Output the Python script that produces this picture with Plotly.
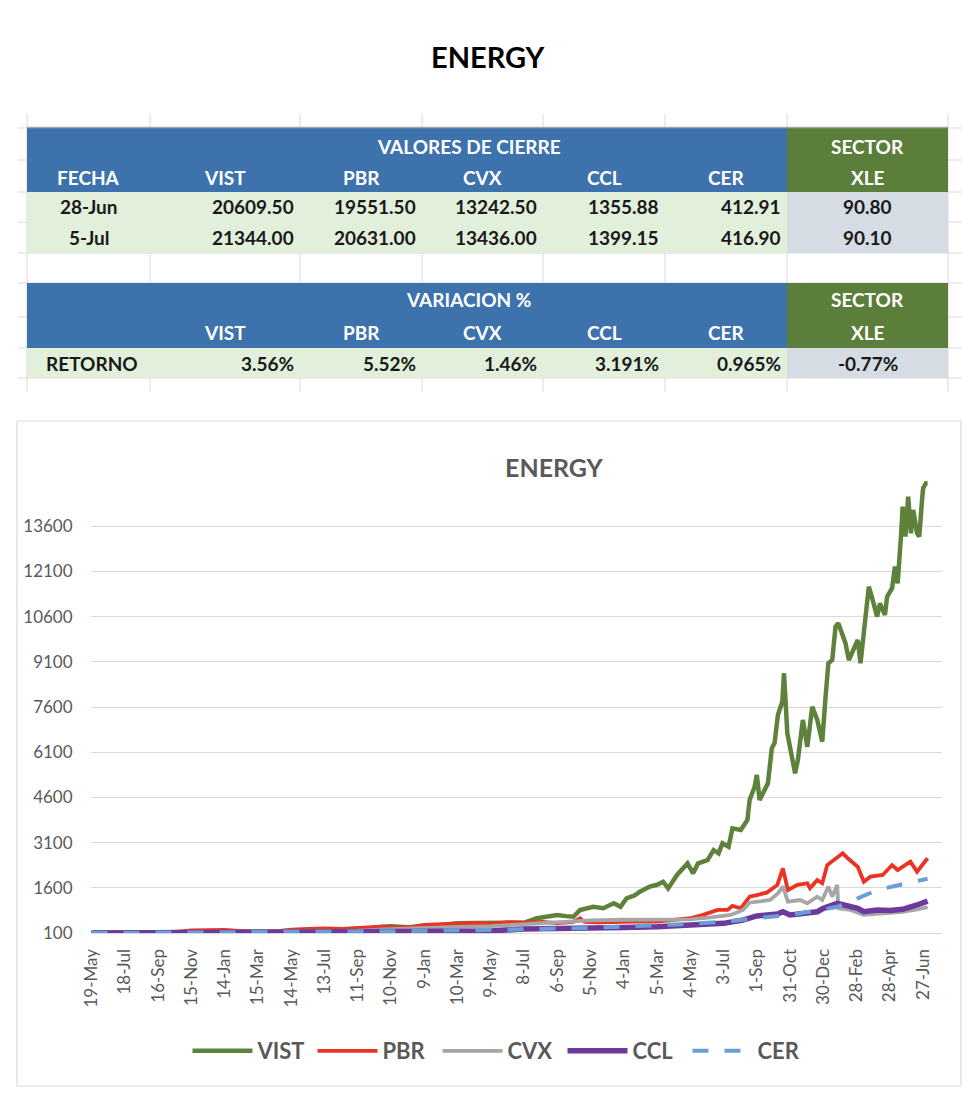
import plotly.graph_objects as go

# the page adds an 8px body margin, so the figure is drawn 8px in from the corner
OFF = 8
W, H = 980 - OFF, 1103 - OFF


def px(x):
    return (x - OFF) / W


def py(y):
    return 1 - (y - OFF) / H


# ------------------------------------------------------------------ table data
tickers = ["VIST", "PBR", "CVX", "CCL", "CER"]
fechas = ["28-Jun", "5-Jul"]
cierre_28jun = [20609.50, 19551.50, 13242.50, 1355.88, 412.91]
cierre_5jul = [21344.00, 20631.00, 13436.00, 1399.15, 416.90]
xle_cierre = [90.80, 90.10]
retorno = [3.56, 5.52, 1.46, 3.191, 0.965]
xle_retorno = -0.77

# ------------------------------------------------------------------ chart data
x_tick_dates = ["2020-05-19", "2020-07-18", "2020-09-16", "2020-11-15", "2021-01-14",
                "2021-03-15", "2021-05-14", "2021-07-13", "2021-09-11", "2021-11-10",
                "2022-01-09", "2022-03-10", "2022-05-09", "2022-07-08", "2022-09-06",
                "2022-11-05", "2023-01-04", "2023-03-05", "2023-05-04", "2023-07-03",
                "2023-09-01", "2023-10-31", "2023-12-30", "2024-02-28", "2024-04-28",
                "2024-06-27"]
x_tick_labels = ["19-May", "18-Jul", "16-Sep", "15-Nov", "14-Jan", "15-Mar", "14-May",
                 "13-Jul", "11-Sep", "10-Nov", "9-Jan", "10-Mar", "9-May", "8-Jul",
                 "6-Sep", "5-Nov", "4-Jan", "5-Mar", "4-May", "3-Jul", "1-Sep",
                 "31-Oct", "30-Dec", "28-Feb", "28-Apr", "27-Jun"]
y_ticks = [100, 1600, 3100, 4600, 6100, 7600, 9100, 10600, 12100, 13600]

vist_dates = ["2020-05-19", "2020-06-20", "2020-07-18", "2020-08-20", "2020-09-16", "2020-10-15",
              "2020-11-15", "2020-12-15", "2021-01-14", "2021-02-15", "2021-03-15", "2021-04-15",
              "2021-05-14", "2021-06-15", "2021-07-13", "2021-08-15", "2021-09-11", "2021-10-05",
              "2021-10-22", "2021-11-10", "2021-12-10", "2022-01-09", "2022-02-10", "2022-03-10",
              "2022-04-10", "2022-05-09", "2022-06-12", "2022-07-10", "2022-07-31", "2022-08-15",
              "2022-09-06", "2022-09-22", "2022-10-05", "2022-10-17", "2022-11-10", "2022-11-28",
              "2022-12-17", "2022-12-29", "2023-01-09", "2023-01-24", "2023-02-02", "2023-02-20",
              "2023-03-05", "2023-03-16", "2023-03-25", "2023-04-10", "2023-04-29", "2023-05-09",
              "2023-05-18", "2023-06-04", "2023-06-15", "2023-06-24", "2023-07-01", "2023-07-12",
              "2023-07-19", "2023-08-03", "2023-08-15", "2023-08-19", "2023-08-28", "2023-09-01",
              "2023-09-06", "2023-09-21", "2023-09-28", "2023-10-03", "2023-10-09", "2023-10-17",
              "2023-10-20", "2023-10-26", "2023-10-31", "2023-11-09", "2023-11-14", "2023-11-23",
              "2023-12-01", "2023-12-10", "2023-12-19", "2023-12-28", "2024-01-03", "2024-01-08",
              "2024-01-15", "2024-01-21", "2024-01-26", "2024-02-03", "2024-02-08", "2024-02-14",
              "2024-02-21", "2024-03-01", "2024-03-06", "2024-03-12", "2024-03-21", "2024-03-28",
              "2024-04-05", "2024-04-10", "2024-04-19", "2024-04-23", "2024-05-02", "2024-05-07",
              "2024-05-12", "2024-05-18", "2024-05-21", "2024-05-26", "2024-05-31", "2024-06-05",
              "2024-06-09", "2024-06-16", "2024-06-20", "2024-06-25", "2024-06-27", "2024-07-02",
              "2024-07-05"]
vist_vals = [100, 102, 105, 104, 110, 105,
             120, 140, 150, 145, 140, 145,
             155, 175, 190, 200, 215, 260,
             310, 320, 290, 300, 370, 420,
             430, 440, 420, 450, 590, 620,
             700, 660, 640, 860, 970, 920,
             1085, 970, 1250, 1350, 1470, 1640,
             1700, 1800, 1580, 2025, 2410, 2080,
             2410, 2520, 2850, 2745, 3075, 2960,
             3575, 3520, 3850, 4515, 4955, 5345,
             4515, 5070, 6230, 6400, 7335, 7780,
             8720, 6730, 6280, 5400, 5840, 7170,
             6280, 7610, 7170, 6450, 7940, 9050,
             9160, 10270, 10380, 9935, 9715, 9160,
             9440, 9825, 9050, 10160, 11595, 11150,
             10600, 11040, 10655, 11260, 11540, 12260,
             11705, 13255, 14250, 13255, 14580, 13365,
             14140, 13365, 13255, 14470, 14860, 15025,
             15030]

pbr_dates = ["2020-05-19", "2020-06-20", "2020-07-18", "2020-08-20", "2020-09-16", "2020-10-20",
             "2020-11-15", "2020-12-15", "2021-01-14", "2021-02-15", "2021-03-15", "2021-04-15",
             "2021-05-14", "2021-06-15", "2021-07-13", "2021-08-15", "2021-09-11", "2021-10-15",
             "2021-11-10", "2021-12-15", "2022-01-09", "2022-02-10", "2022-03-10", "2022-04-10",
             "2022-05-09", "2022-06-12", "2022-07-08", "2022-08-10", "2022-09-06", "2022-10-05",
             "2022-10-17", "2022-10-25", "2022-11-20", "2022-12-16", "2023-01-24", "2023-03-05",
             "2023-04-10", "2023-05-04", "2023-05-27", "2023-06-22", "2023-07-10", "2023-07-19",
             "2023-08-03", "2023-08-19", "2023-09-01", "2023-09-19", "2023-10-08", "2023-10-18",
             "2023-10-27", "2023-11-13", "2023-12-01", "2023-12-06", "2023-12-19", "2023-12-28",
             "2024-01-06", "2024-01-17", "2024-02-03", "2024-02-12", "2024-03-01", "2024-03-12",
             "2024-03-24", "2024-04-15", "2024-05-02", "2024-05-12", "2024-06-04", "2024-06-16",
             "2024-06-27", "2024-07-05"]
pbr_vals = [100, 108, 112, 105, 118, 135,
            190, 210, 205, 165, 130, 150,
            215, 240, 255, 235, 260, 300,
            290, 300, 370, 385, 420, 435,
            410, 460, 440, 470, 430, 470,
            590, 470, 450, 470, 480, 480,
            530, 590, 700, 865, 865, 1000,
            920, 1305, 1360, 1440, 1695, 2245,
            1525, 1695, 1750, 1585, 1860, 1750,
            2355, 2520, 2745, 2580, 2300, 1800,
            1970, 2025, 2355, 2190, 2465, 2135,
            2410, 2580]

cvx_dates = ["2020-05-19", "2020-07-18", "2020-09-16", "2020-11-15", "2021-01-14", "2021-03-15",
             "2021-05-14", "2021-07-13", "2021-09-11", "2021-11-10", "2022-01-09", "2022-03-10",
             "2022-05-09", "2022-07-08", "2022-09-06", "2022-11-05", "2023-01-04", "2023-03-05",
             "2023-05-04", "2023-06-10", "2023-07-16", "2023-08-07", "2023-08-19", "2023-09-25",
             "2023-10-09", "2023-10-18", "2023-10-27", "2023-11-18", "2023-12-01", "2023-12-19",
             "2023-12-28", "2024-01-08", "2024-01-15", "2024-01-24", "2024-01-26", "2024-02-17",
             "2024-03-12", "2024-04-15", "2024-05-21", "2024-06-16", "2024-07-05"]
cvx_vals = [100, 98, 95, 120, 135, 150,
            160, 165, 175, 230, 250, 300,
            330, 400, 470, 520, 540, 540,
            555, 620, 700, 865, 1105, 1195,
            1415, 1640, 1140, 1195, 1085, 1305,
            1195, 1640, 1305, 1695, 920, 865,
            700, 750, 805, 880, 960]

ccl_dates = ["2020-05-19", "2020-07-18", "2020-09-16", "2020-11-15", "2021-01-14", "2021-03-15",
             "2021-05-14", "2021-07-13", "2021-09-11", "2021-11-10", "2022-01-09", "2022-03-10",
             "2022-05-09", "2022-07-08", "2022-09-06", "2022-11-05", "2023-01-04", "2023-03-05",
             "2023-05-04", "2023-07-03", "2023-08-07", "2023-09-01", "2023-10-08", "2023-10-18",
             "2023-10-31", "2023-11-23", "2023-12-19", "2023-12-30", "2024-01-24", "2024-02-05",
             "2024-03-01", "2024-03-12", "2024-04-05", "2024-04-28", "2024-05-21", "2024-06-16",
             "2024-07-05"]
ccl_vals = [100, 105, 118, 128, 122, 116,
            122, 135, 145, 165, 170, 165,
            170, 230, 235, 255, 285, 310,
            365, 420, 530, 665, 730, 805,
            700, 750, 805, 920, 1085, 1030,
            920, 805, 865, 850, 885, 1030,
            1160]

cer_dates = ["2020-05-19", "2020-11-15", "2021-05-14", "2021-11-10", "2022-05-09", "2022-11-05",
             "2023-05-04", "2023-07-03", "2023-09-01", "2023-10-31", "2023-12-30", "2024-01-24",
             "2024-03-01", "2024-04-05", "2024-05-15", "2024-07-05"]
cer_vals = [100, 112, 135, 160, 200, 270,
            400, 475, 590, 700, 880, 970,
            1250, 1525, 1695, 1900]

series = [
    ("VIST", vist_dates, vist_vals, "#5E823C", 4.5, "solid"),
    ("PBR", pbr_dates, pbr_vals, "#EB3323", 3.8, "solid"),
    ("CVX", cvx_dates, cvx_vals, "#A6A6A6", 3.8, "solid"),
    ("CCL", ccl_dates, ccl_vals, "#6B3A9C", 5.5, "solid"),
    ("CER", cer_dates, cer_vals, "#6A9FD6", 4, "16px,16px"),
]

FONT = "Lato"
GREY_TXT = "#595959"
BLUE = "#3E72AD"
GREEN = "#5B7F3A"
ROW_GREEN = "#E2EFDA"
ROW_GREY = "#D6DCE4"
GRID = "#D9D9D9"

fig = go.Figure()
for name, d, v, c, w, dash in series:
    fig.add_trace(go.Scatter(x=d, y=v, mode="lines", name=name,
                             line=dict(color=c, width=w, dash=dash)))

# ------------------------------------------------------------------ table geometry
cols = [27, 150, 300, 422, 543, 665, 787, 948]
rows = {"h1": (128, 160), "h2": (160, 192), "d1": (192, 222), "d2": (222, 253),
        "blank": (253, 283), "h3": (283, 317), "h4": (317, 348), "ret": (348, 378)}

shapes = []
# sheet gridlines
for yy in [128, 160, 192, 222, 253, 283, 317, 348, 378]:
    shapes.append(dict(type="line", xref="paper", yref="paper", x0=px(18), x1=px(962),
                       y0=py(yy), y1=py(yy), line=dict(color=GRID, width=1)))
for xx in cols:
    shapes.append(dict(type="line", xref="paper", yref="paper", x0=px(xx), x1=px(xx),
                       y0=py(114), y1=py(392), line=dict(color=GRID, width=1)))


def rect(x0, x1, y0, y1, color):
    shapes.append(dict(type="rect", xref="paper", yref="paper", x0=px(x0), x1=px(x1),
                       y0=py(y1), y1=py(y0), fillcolor=color, line=dict(width=0)))


for a, b in [("h1", "h2"), ("h3", "h4")]:
    rect(cols[0], cols[6], rows[a][0], rows[b][1], BLUE)
    rect(cols[6], cols[7], rows[a][0], rows[b][1], GREEN)
for r in ["d1", "d2", "ret"]:
    rect(cols[0], cols[6], rows[r][0], rows[r][1], ROW_GREEN)
    rect(cols[6], cols[7], rows[r][0], rows[r][1], ROW_GREY)
shapes.append(dict(type="line", xref="paper", yref="paper", x0=px(cols[0]), x1=px(cols[7]),
                   y0=py(127.5), y1=py(127.5), line=dict(color="#A6A6A6", width=1.5)))
# chart frame
shapes.append(dict(type="rect", xref="paper", yref="paper", x0=px(17), x1=px(961),
                   y0=py(1086), y1=py(421), line=dict(color=GRID, width=1.2),
                   fillcolor="rgba(0,0,0,0)"))

ann = []


def text(x, y, s, size=19, color="#1A1A1A", anchor="center", bold=True):
    ann.append(dict(xref="paper", yref="paper", x=px(x), y=py(y), text=s, showarrow=False,
                    xanchor=anchor, yanchor="middle",
                    font=dict(family=FONT, size=size, color=color,
                              weight="bold" if bold else "normal")))


def ycen(r):
    return (rows[r][0] + rows[r][1]) / 2


col_c = [(cols[i] + cols[i + 1]) / 2 for i in range(7)]
text(488, 56, "ENERGY", size=29, color="#000000")
text((cols[1] + cols[6]) / 2, ycen("h1") + 2, "VALORES DE CIERRE", color="white")
text(col_c[6], ycen("h1") + 2, "SECTOR", color="white")
text(col_c[0], ycen("h2") + 1, "FECHA", color="white")
for i, t in enumerate(tickers):
    text(col_c[i + 1], ycen("h2") + 1, t, color="white")
    text(col_c[i + 1], ycen("h4"), t, color="white")
text(col_c[6], ycen("h2") + 1, "XLE", color="white")
for r, f, vals, xv in [("d1", fechas[0], cierre_28jun, xle_cierre[0]),
                       ("d2", fechas[1], cierre_5jul, xle_cierre[1])]:
    text(col_c[0], ycen(r), f)
    for i, v in enumerate(vals):
        text(cols[i + 2] - 4, ycen(r), f"{v:.2f}", anchor="right")
    text(col_c[6], ycen(r), f"{xv:.2f}")
text((cols[1] + cols[6]) / 2, ycen("h3"), "VARIACION %", color="white")
text(col_c[6], ycen("h3"), "SECTOR", color="white")
text(col_c[6], ycen("h4"), "XLE", color="white")
text(44, ycen("ret"), "RETORNO", anchor="left")
for i, v in enumerate(retorno):
    text(cols[i + 2] - 4, ycen("ret"), f"{v}%", anchor="right")
text(col_c[6], ycen("ret"), f"{xle_retorno}%")
# chart title
text(554, 467, "ENERGY", size=25, color=GREY_TXT)

fig.update_layout(
    width=W, height=H, autosize=False,
    margin=dict(l=0, r=0, t=0, b=0, pad=0),
    paper_bgcolor="white", plot_bgcolor="white",
    shapes=shapes, annotations=ann,
    showlegend=True,
    legend=dict(orientation="h", x=px(500), xanchor="center", y=py(1051), yanchor="middle",
                font=dict(family=FONT, size=22, color=GREY_TXT, weight="bold"),
                itemwidth=60, entrywidth=50, entrywidthmode="pixels", traceorder="normal"),
    xaxis=dict(domain=[px(91), px(942)], type="date", automargin=False,
               range=["2020-05-18", "2024-07-31"],
               tickvals=x_tick_dates, ticktext=x_tick_labels, tickangle=-90,
               tickfont=dict(family=FONT, size=17, color=GREY_TXT),
               ticks="outside", ticklen=8, tickcolor="rgba(0,0,0,0)",
               showgrid=False, zeroline=False, showline=True, linecolor=GRID, linewidth=1.3),
    yaxis=dict(domain=[py(933), py(481)], range=[100, 15100], automargin=False,
               tickvals=y_ticks, ticktext=[str(v) for v in y_ticks],
               tickfont=dict(family=FONT, size=17, color=GREY_TXT),
               ticks="outside", ticklen=14, tickcolor="rgba(0,0,0,0)",
               showgrid=True, gridcolor=GRID, gridwidth=1.3, zeroline=False, showline=False),
)

fig.write_html("out.html")
